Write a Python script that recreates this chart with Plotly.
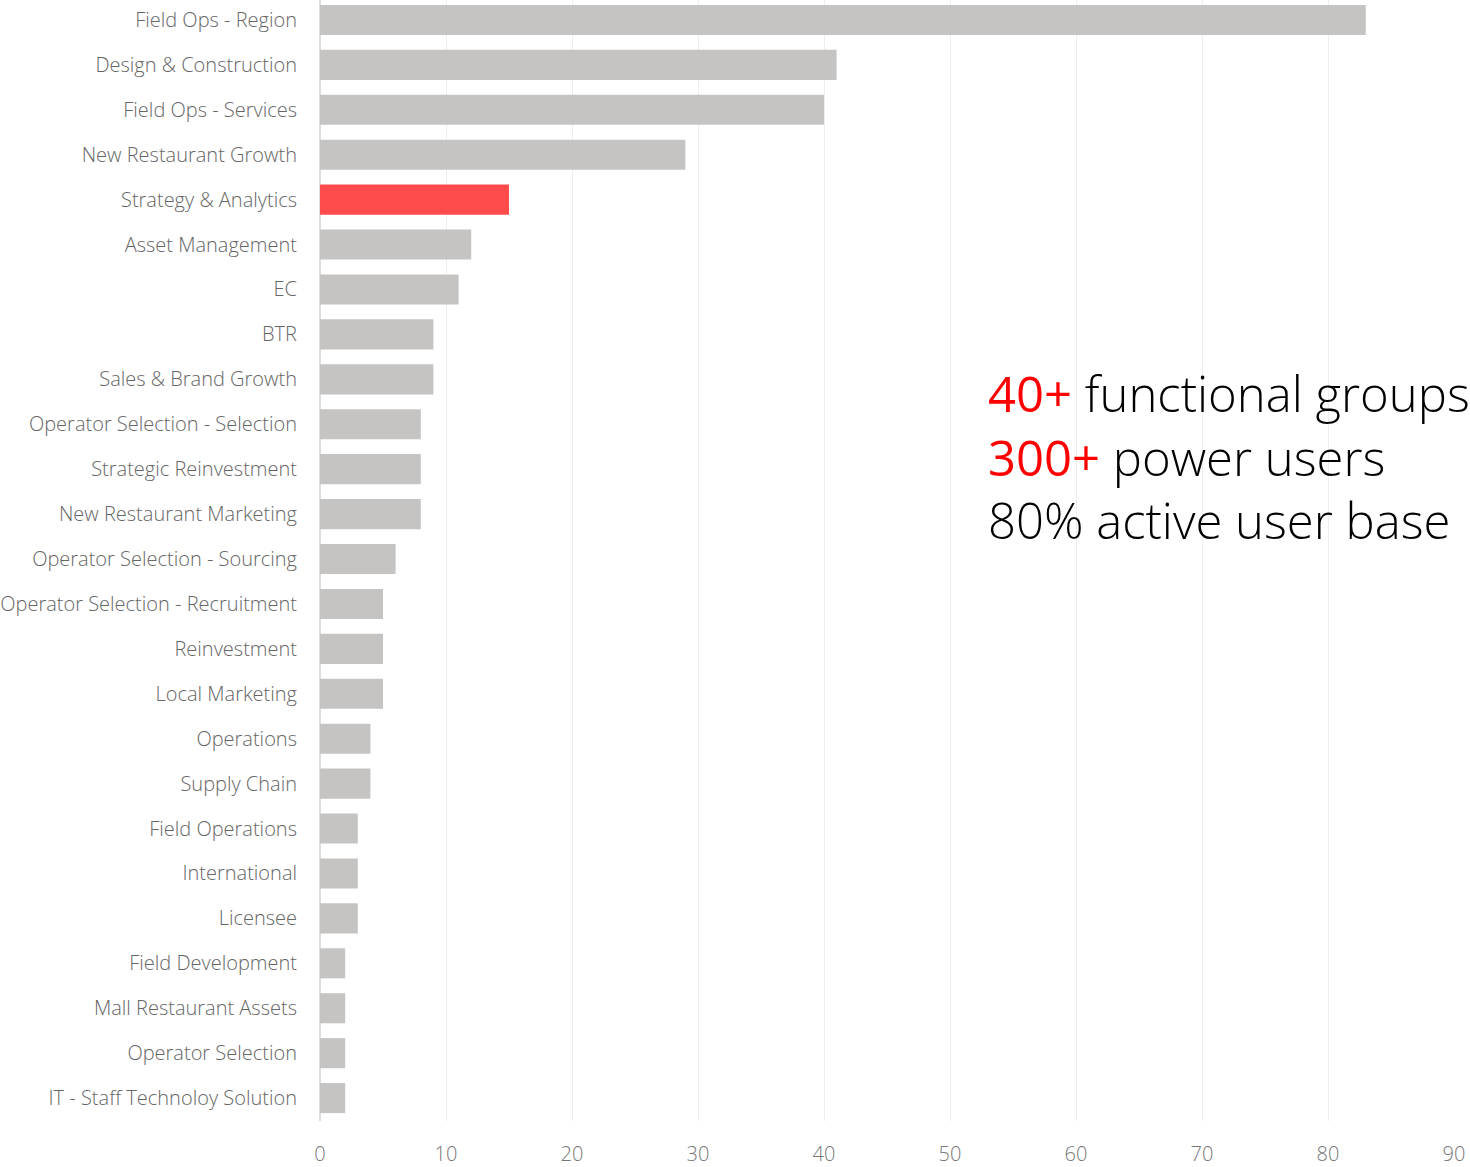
import plotly.graph_objects as go

categories = [
    "Field Ops - Region", "Design & Construction", "Field Ops - Services",
    "New Restaurant Growth", "Strategy & Analytics", "Asset Management", "EC",
    "BTR", "Sales & Brand Growth", "Operator Selection - Selection",
    "Strategic Reinvestment", "New Restaurant Marketing",
    "Operator Selection - Sourcing", "Operator Selection - Recruitment",
    "Reinvestment", "Local Marketing", "Operations", "Supply Chain",
    "Field Operations", "International", "Licensee", "Field Development",
    "Mall Restaurant Assets", "Operator Selection", "IT - Staff Technoloy Solution",
]
values = [83, 41, 40, 29, 15, 12, 11, 9, 9, 8, 8, 8, 6, 5, 5, 5, 4, 4, 3, 3, 3, 2, 2, 2, 2]
highlight = "Strategy & Analytics"
x_ticks = [0, 10, 20, 30, 40, 50, 60, 70, 80, 90]

colors = ["#FF4B4B" if c == highlight else "#C5C4C2" for c in categories]

FONT = "Open Sans"

fig = go.Figure(go.Bar(
    x=values, y=categories, orientation="h",
    marker=dict(color=colors, line=dict(width=0)),
    hoverinfo="x+y",
))

fig.update_layout(
    width=1470, height=1167,
    margin=dict(l=320, r=16, t=0, b=44),
    paper_bgcolor="white", plot_bgcolor="white",
    bargap=0.33,
    showlegend=False,
    font=dict(family=FONT, color="#777777", size=20, weight=300),
    xaxis=dict(
        range=[0, 90], tickvals=x_ticks, showgrid=True, gridcolor="#EEEEEE",
        gridwidth=1, zeroline=True, zerolinecolor="#DDDDDD", zerolinewidth=2,
        showline=False, ticks="", tickfont=dict(size=20, color="#777777", family=FONT, weight=300),
        ticklabelstandoff=19,
    ),
    yaxis=dict(
        autorange=False, range=[24.51, -0.444], showgrid=False, ticks="", showline=False,
        tickfont=dict(size=20, color="#666666", family=FONT, weight=300),
        ticklabelstandoff=22,
    ),
    annotations=[dict(
        xref="paper", yref="paper", x=0.5875, y=0.5925,
        xanchor="left", yanchor="middle", align="left", showarrow=False,
        text=("<span style='color:#FF0000;font-weight:400'>40+</span> functional groups<br>"
              "<span style='color:#FF0000;font-weight:400'>300+</span> power users<br>"
              "80% active user base"),
        font=dict(family=FONT, size=49, color="#000000", weight=300),
    )],
)

fig.write_html("out.html")
